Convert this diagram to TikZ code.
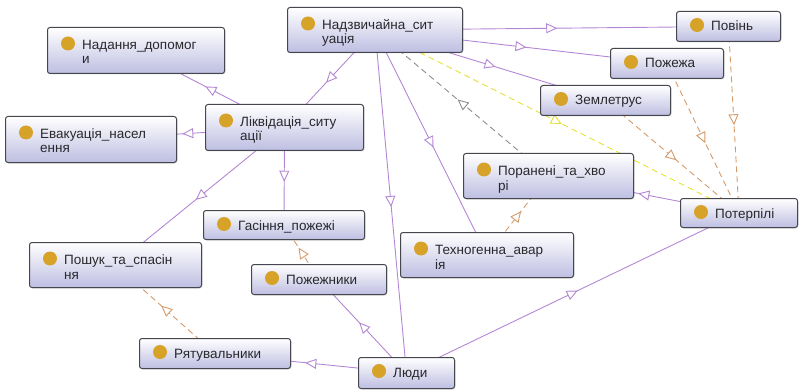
\documentclass[tikz,border=0pt]{standalone}
\usepackage{fontspec}
\setmainfont{Liberation Sans}
\usetikzlibrary{arrows.meta,decorations.markings,shadows,backgrounds,calc}

\definecolor{owlpurple}{RGB}{180,135,212}
\definecolor{owlgray}{RGB}{140,140,140}
\definecolor{owlyellow}{RGB}{230,225,50}
\definecolor{owlorange}{RGB}{212,155,105}
\definecolor{owlfill}{RGB}{190,190,226}
\definecolor{owledge}{RGB}{70,70,78}
\definecolor{owldot}{RGB}{214,162,40}
\definecolor{owltext}{RGB}{40,40,45}

\tikzset{
  clsbox/.style={draw=owledge, line width=1pt, rounded corners=2.5pt,
    top color=white, bottom color=owlfill,
    drop shadow={opacity=0.25, shadow xshift=1pt, shadow yshift=-1pt},
    inner sep=0pt, anchor=north west},
  clstext/.style={text=owltext, font=\fontsize{13.5}{14.5}\selectfont,
    inner sep=0pt, anchor=base west},
  clsdot/.style={fill=owldot},
  midtri/.style={postaction={decorate}, decoration={markings,
    mark=at position 0.5 with {\arrow[xshift=5.5pt]{Triangle[length=11pt,width=10pt,fill=white]}}}},
  subcls/.style={draw=owlpurple, line width=0.9pt, midtri},
  relgray/.style={draw=owlgray, line width=0.9pt, dash pattern=on 6pt off 4pt, midtri},
  relyellow/.style={draw=owlyellow, line width=0.9pt, dash pattern=on 6pt off 4pt, midtri},
  relorange/.style={draw=owlorange, line width=0.9pt, dash pattern=on 6pt off 4pt, midtri}
}

% class box: name, left, top, width, height, text
\newcommand\owlclass[6]{%
  \node[clsbox, minimum width=#4pt, minimum height=#5pt] (#1) at (#2,#3) {};
  \pgfmathsetmacro\owlbase{#5>35 ? 22.5 : 20}
  \fill[clsdot] ($(#1.north west)+(21,\owlbase-6)$) circle (7pt);
  \node[clstext] (#1-t) at ($(#1.north west)+(35,\owlbase)$)
    {\begin{tabular}[t]{@{}l@{}}#6\end{tabular}};
}

\begin{document}
\begin{tikzpicture}[x=1pt,y=-1pt]
  \useasboundingbox (0,0) rectangle (799,390);

  \owlclass{nadz}{287}{7}{175}{45}{Надзвичайна\_сит\\уація}
  \owlclass{nadann}{47}{27}{177}{46}{Надання\_допомог\\и}
  \owlclass{likv}{205}{104}{158}{46}{Ліквідація\_ситу\\ації}
  \owlclass{evak}{5}{116}{171}{46}{Евакуація\_насел\\ення}
  \owlclass{povin}{676}{11}{104}{30}{Повінь}
  \owlclass{pozhezha}{610}{48}{113}{30}{Пожежа}
  \owlclass{zeml}{540}{85}{130}{30}{Землетрус}
  \owlclass{poran}{463}{153}{170}{45}{Поранені\_та\_хво\\рі}
  \owlclass{poterp}{680}{198}{117}{29}{Потерпілі}
  \owlclass{tekhn}{400}{232}{173}{45}{Техногенна\_авар\\ія}
  \owlclass{hasinnia}{203}{210}{161}{29}{Гасіння\_пожежі}
  \owlclass{poshuk}{29}{242}{172}{45}{Пошук\_та\_спасін\\ня}
  \owlclass{pozhezhn}{251}{264}{135}{30}{Пожежники}
  \owlclass{riat}{139}{338}{151}{30}{Рятувальники}
  \owlclass{liudy}{358}{357}{96}{31}{Люди}

  \begin{pgfonlayer}{background}
    % subclass links
    \draw[subcls] (nadz.center) -- (povin.center);
    \draw[subcls] (nadz.center) -- (pozhezha.center);
    \draw[subcls] (nadz.center) -- (zeml.center);
    \draw[subcls] (nadz.center) -- (likv.center);
    \draw[subcls] (nadz.center) -- (tekhn.center);
    \draw[subcls] (nadz.center) -- (liudy.center);
    \draw[subcls] (likv.center) -- (nadann.center);
    \draw[subcls] (likv.center) -- (evak.center);
    \draw[subcls] (likv.center) -- (hasinnia.center);
    \draw[subcls] (likv.center) -- (poshuk.center);
    \draw[subcls] (liudy.center) -- (riat.center);
    \draw[subcls] (liudy.center) -- (pozhezhn.center);
    \draw[subcls] (liudy.center) -- (poterp.center);
    \draw[subcls] (poterp.center) -- (poran.center);
    % property links
    \draw[relgray] (poran.center) -- (nadz.center);
    \draw[relyellow] (nadz.center) -- (poterp.center);
    \draw[relorange] (povin.center) -- (poterp.center);
    \draw[relorange] (pozhezha.center) -- (poterp.center);
    \draw[relorange] (zeml.center) -- (poterp.center);
    \draw[relorange] (tekhn.center) -- (poran.center);
    \draw[relorange] (pozhezhn.center) -- (hasinnia.center);
    \draw[relorange] (riat.center) -- (poshuk.center);
  \end{pgfonlayer}
\end{tikzpicture}
\end{document}
